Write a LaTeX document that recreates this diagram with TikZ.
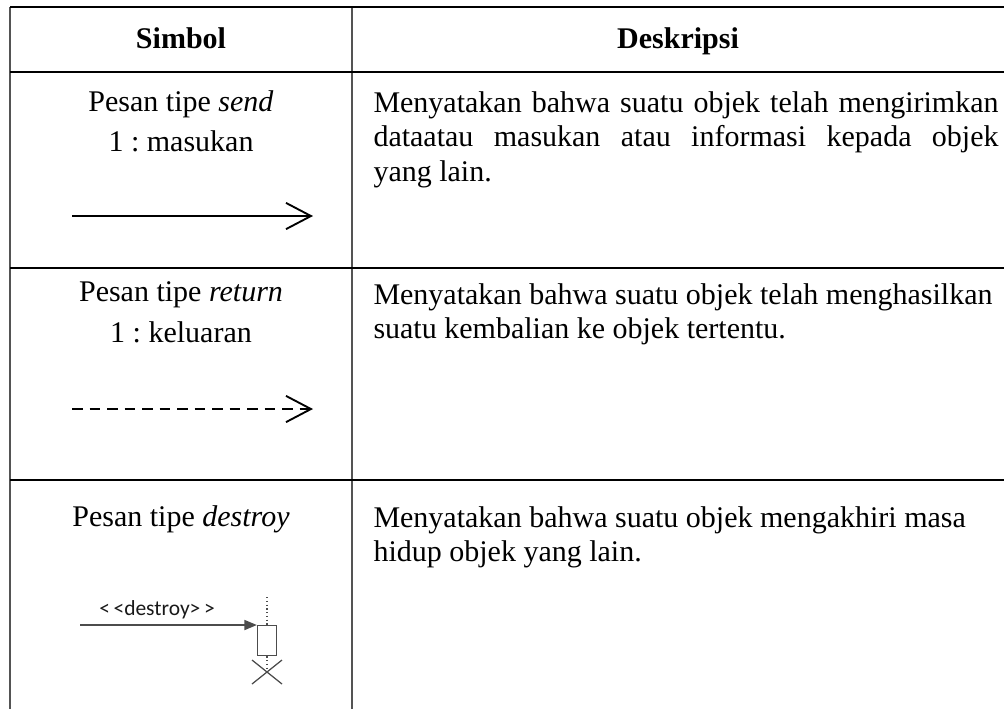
\documentclass[tikz,border=0pt]{standalone}
\usepackage{fontspec}
\setmainfont{Liberation Serif}
\newfontfamily\umlfont{Carlito}
\usetikzlibrary{arrows.meta}
\definecolor{rulegray}{rgb}{0.33,0.33,0.33}
\definecolor{umlgray}{rgb}{0.3,0.3,0.3}
\frenchspacing
\begin{document}
\begin{tikzpicture}[x=0.4pt,y=-0.4pt,
  hrule/.style={line width=1.1pt,black},
  vrule/.style={line width=0.8pt,rulegray},
  cell/.style={inner sep=0pt,font=\fontsize{12}{13.8}\selectfont},
  head/.style={inner sep=0pt,anchor=base,font=\fontsize{12}{13.8}\selectfont\bfseries},
  desc/.style={cell,anchor=north west,align=left},
  msg/.style={line width=0.75pt,-{Straight Barb[length=10pt,width=10.5pt]}},
]
\useasboundingbox (0,0) rectangle (1004,709);
% table rules
\draw[vrule] (10,7) -- (10,709);
\draw[vrule] (352,7) -- (352,709);
\foreach \y in {7,72,268,480} \draw[hrule] (10,\y) -- (1004,\y);

% header
\node[head] (hsym) at (181,48) {Simbol};
\node[head] (hdesc) at (678,48) {Deskripsi};

% send message
\node[cell] (sendT) at (181,104) {Pesan tipe \textit{send}};
\node[cell] (sendL) at (181,141) {1 : masukan};
\coordinate (sendA) at (72,216);
\coordinate (sendB) at (313,216);
\draw[msg] (sendA) -- (sendB);
\node[desc] (sendD) at (373,91) {\makebox[250pt][s]{Menyatakan bahwa suatu objek telah mengirimkan}\\
  \makebox[250pt][s]{dataatau masukan atau informasi kepada objek}\\
  yang lain.};

% return message
\node[cell] (retT) at (181,295) {Pesan tipe \textit{return}};
\node[cell] (retL) at (181,332) {1 : keluaran};
\coordinate (retA) at (72,409);
\coordinate (retB) at (313,409);
\draw[msg,dash pattern=on 4.2pt off 2.8pt] (retA) -- (retB);
\node[desc] (retD) at (373,283) {Menyatakan bahwa suatu objek telah menghasilkan\\
  suatu kembalian ke objek tertentu.};

% destroy message
\node[cell] (desT) at (181,519) {Pesan tipe \textit{destroy}};
\node[desc] (desD) at (373,506) {Menyatakan bahwa suatu objek mengakhiri masa\\
  hidup objek yang lain.};

\begin{scope}[umlgray]
  \coordinate (lifeTop) at (267,597);
  \node[draw,line width=0.5pt,minimum width=7.6pt,minimum height=12pt,inner sep=0pt,anchor=north]
    (act) at (267,625) {};
  \coordinate (desA) at (80,625);
  \draw[line width=0.65pt,-{Triangle[length=5pt,width=4pt]}] (desA) -- (act.north west);
  \draw[line width=0.5pt,densely dotted] (lifeTop) -- (act.north);
  \node[inner sep=0pt,font=\umlfont\fontsize{8.6}{9}\selectfont,text=black!90] (desN) at (157,610) {<\,<destroy>\,>};
  \coordinate (xc) at (267,672);
  \draw[line width=0.5pt,densely dotted] (act.south) -- (xc);
  \draw[line width=0.5pt] (252,660) -- (282,684) (252,684) -- (282,660);
\end{scope}
\end{tikzpicture}
\end{document}
